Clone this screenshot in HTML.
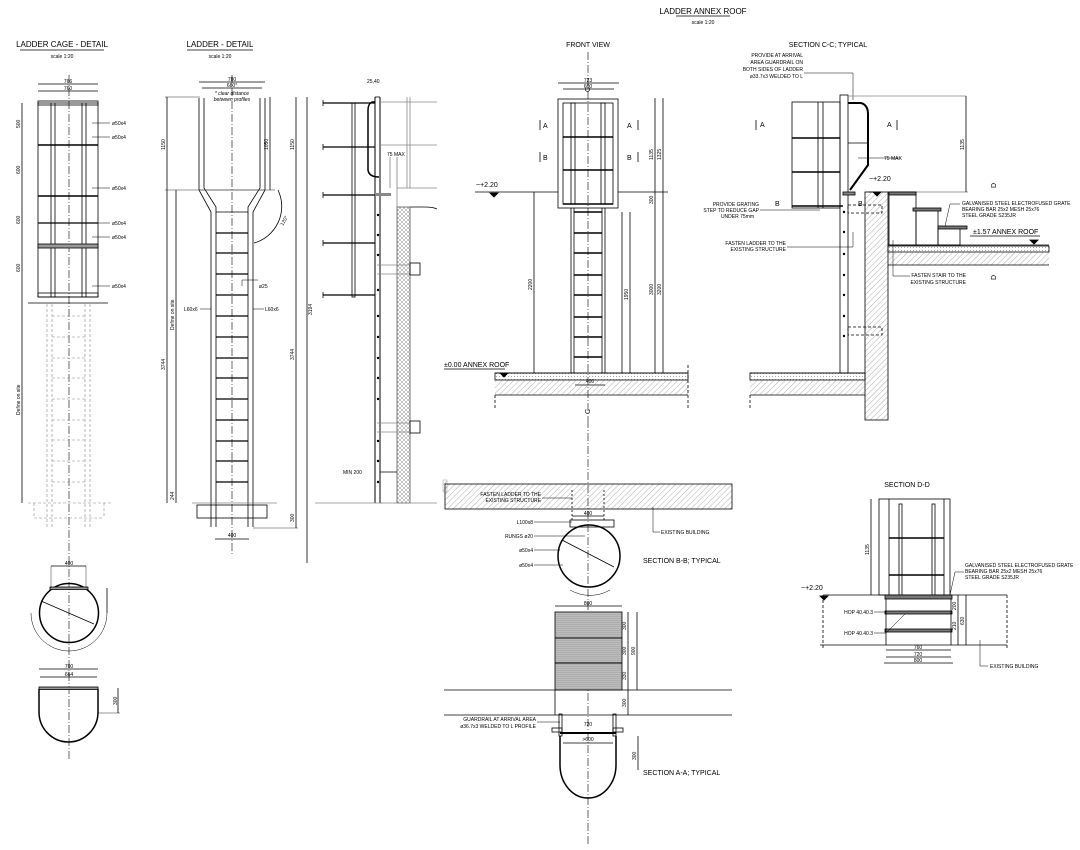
<!DOCTYPE html>
<html><head><meta charset="utf-8"><style>
html,body{margin:0;padding:0;background:#fff;}
svg{display:block;font-family:"Liberation Sans",sans-serif;}
text{fill:#000;}
.t{font-size:5px;}
.m{font-size:7px;}
.h{font-size:8px;}
</style></head><body>
<svg width="1080" height="850" viewBox="0 0 1080 850" xmlns="http://www.w3.org/2000/svg">
<defs>
<pattern id="hat" width="4" height="4" patternUnits="userSpaceOnUse" patternTransform="rotate(45)"><line x1="0" y1="0" x2="0" y2="4" stroke="#777" stroke-width="0.6"/></pattern>
<pattern id="xh" width="4" height="4" patternUnits="userSpaceOnUse"><path d="M0 0 L4 4 M4 0 L0 4" stroke="#888" stroke-width="0.5"/></pattern>
<pattern id="dot" width="3" height="3" patternUnits="userSpaceOnUse"><circle cx="1.5" cy="1.5" r="0.5" fill="#888"/></pattern>
<pattern id="mesh" width="2" height="2" patternUnits="userSpaceOnUse"><rect width="2" height="2" fill="#bbb"/><line x1="0" y1="0" x2="2" y2="0" stroke="#888" stroke-width="0.5"/></pattern>
</defs>
<g stroke="#000" fill="none" stroke-width="0.8">

<!-- titles -->
<text class="h" x="703" y="14" text-anchor="middle" stroke="none">LADDER ANNEX ROOF</text>
<line x1="676" y1="16" x2="730" y2="16"/>
<text class="t" x="703" y="24" text-anchor="middle" stroke="none">scale 1:20</text>
<text class="h" x="62" y="47" text-anchor="middle" stroke="none">LADDER CAGE - DETAIL</text>
<line x1="20" y1="50" x2="104" y2="50"/>
<text class="t" x="62" y="58" text-anchor="middle" stroke="none">scale 1:20</text>
<text class="h" x="220" y="47" text-anchor="middle" stroke="none">LADDER - DETAIL</text>
<line x1="187" y1="50" x2="253" y2="50"/>
<text class="t" x="220" y="58" text-anchor="middle" stroke="none">scale 1:20</text>
<text class="m" x="588" y="47" text-anchor="middle" stroke="none">FRONT VIEW</text>
<text class="m" x="828" y="47" text-anchor="middle" stroke="none">SECTION C-C; TYPICAL</text>

<!-- VIEW 1 cage -->
<line x1="69" y1="75" x2="69" y2="760" stroke-dasharray="8 2 1 2" stroke-width="0.6"/>
<rect x="38" y="103" width="60" height="194"/>
<rect x="38" y="101" width="60" height="4"/>
<rect x="38" y="293" width="60" height="4"/>
<line x1="51" y1="103" x2="51" y2="297"/><line x1="55" y1="103" x2="55" y2="297"/>
<line x1="82" y1="103" x2="82" y2="297"/><line x1="86" y1="103" x2="86" y2="297"/>
<line x1="38" y1="145" x2="98" y2="145" stroke-width="1.4"/>
<line x1="38" y1="196" x2="98" y2="196" stroke-width="1.4"/>
<line x1="38" y1="223" x2="98" y2="223" stroke-width="1.2"/>
<rect x="38" y="244" width="60" height="4" fill="#999"/>
<line x1="38" y1="84" x2="98" y2="84"/><line x1="38" y1="91" x2="98" y2="91"/>
<text class="t" x="68" y="83" text-anchor="middle" stroke="none">766</text>
<text class="t" x="68" y="90" text-anchor="middle" stroke="none">760</text>
<line x1="22" y1="103" x2="22" y2="503"/>
<g stroke="none" class="t">
<text x="112" y="125">ø50x4</text><text x="112" y="139">ø50x4</text><text x="112" y="190">ø50x4</text>
<text x="112" y="225">ø50x4</text><text x="112" y="239">ø50x4</text><text x="112" y="288">ø50x4</text>
<text transform="translate(20,128) rotate(-90)">500</text><text transform="translate(20,174) rotate(-90)">600</text>
<text transform="translate(20,224) rotate(-90)">600</text><text transform="translate(20,272) rotate(-90)">600</text>
<text transform="translate(20,415) rotate(-90)">Define on site</text>
</g>
<g stroke-width="0.5">
<line x1="92" y1="123" x2="110" y2="123"/><line x1="92" y1="137" x2="110" y2="137"/><line x1="92" y1="188" x2="110" y2="188"/>
<line x1="92" y1="223" x2="110" y2="223"/><line x1="92" y1="237" x2="110" y2="237"/><line x1="92" y1="286" x2="110" y2="286"/>
</g>
<line x1="28" y1="303" x2="108" y2="303"/>
<g stroke="#888" stroke-dasharray="3 2" stroke-width="0.6">
<line x1="47" y1="304" x2="47" y2="527"/><line x1="52" y1="304" x2="52" y2="527"/>
<line x1="85" y1="304" x2="85" y2="527"/><line x1="90" y1="304" x2="90" y2="527"/>
<line x1="52" y1="316" x2="85" y2="316"/><line x1="52" y1="337" x2="85" y2="337"/><line x1="52" y1="358" x2="85" y2="358"/>
<line x1="52" y1="378" x2="85" y2="378"/><line x1="52" y1="399" x2="85" y2="399"/><line x1="52" y1="420" x2="85" y2="420"/>
<line x1="52" y1="440" x2="85" y2="440"/><line x1="52" y1="461" x2="85" y2="461"/><line x1="52" y1="482" x2="85" y2="482"/>
<line x1="28" y1="503" x2="113" y2="503"/><line x1="34" y1="518" x2="104" y2="518"/><line x1="34" y1="503" x2="34" y2="518"/><line x1="104" y1="503" x2="104" y2="518"/>
</g>
<circle cx="69" cy="613" r="29.5" stroke-width="1.5"/>
<line x1="41" y1="601" x2="94" y2="624"/>
<rect x="50" y="587" width="38" height="2.5" fill="#999"/>
<line x1="51" y1="566" x2="86" y2="566"/><line x1="51" y1="566" x2="51" y2="588" stroke-width="0.4"/><line x1="86" y1="566" x2="86" y2="588" stroke-width="0.4"/>
<text class="t" x="69" y="565" text-anchor="middle" stroke="none">400</text>
<line x1="107" y1="588" x2="107" y2="613"/>
<path d="M31 613 A38 38 0 0 0 107 613" stroke-width="0.5"/>
<path d="M39 689 L39 712 A29.5 30 0 0 0 98 712 L98 689" stroke-width="1.5"/>
<rect x="39" y="687" width="59" height="2.5" fill="#999"/>
<line x1="39" y1="669" x2="98" y2="669"/><line x1="40" y1="677" x2="97" y2="677"/>
<text class="t" x="69" y="668" text-anchor="middle" stroke="none">700</text>
<text class="t" x="69" y="676" text-anchor="middle" stroke="none">664</text>
<line x1="118" y1="688" x2="118" y2="713"/>
<line x1="98" y1="713" x2="120" y2="713" stroke-width="0.4"/>
<text class="t" transform="translate(117,705) rotate(-90)" stroke="none">300</text>

<!-- VIEW 2 ladder detail -->
<line x1="232" y1="75" x2="232" y2="555" stroke-dasharray="8 2 1 2" stroke-width="0.6"/>
<line x1="199" y1="82" x2="265" y2="82"/><line x1="202" y1="88" x2="262" y2="88"/>
<text class="t" x="232" y="81" text-anchor="middle" stroke="none">780</text>
<text class="t" x="232" y="87" text-anchor="middle" stroke="none">680*</text>
<text class="t" x="232" y="95" text-anchor="middle" stroke="none" font-style="italic">* clear distance</text>
<text class="t" x="232" y="101" text-anchor="middle" stroke="none" font-style="italic">between profiles</text>
<path d="M199 98 L199 190 L211 212 L211 527 M204 98 L204 188 L216 207 L216 527"/>
<path d="M265 98 L265 190 L253 212 L253 527 M260 98 L260 188 L248 207 L248 527"/>
<line x1="199" y1="190" x2="265" y2="190" stroke="#888"/>
<line x1="216" y1="212" x2="248" y2="212"/>
<g stroke-width="1.3">
<line x1="216" y1="233" x2="248" y2="233"/><line x1="216" y1="253" x2="248" y2="253"/><line x1="216" y1="274" x2="248" y2="274"/>
<line x1="216" y1="295" x2="248" y2="295"/><line x1="216" y1="316" x2="248" y2="316"/><line x1="216" y1="337" x2="248" y2="337"/>
<line x1="216" y1="358" x2="248" y2="358"/><line x1="216" y1="378" x2="248" y2="378"/><line x1="216" y1="399" x2="248" y2="399"/>
<line x1="216" y1="420" x2="248" y2="420"/><line x1="216" y1="441" x2="248" y2="441"/><line x1="216" y1="461" x2="248" y2="461"/>
<line x1="216" y1="482" x2="248" y2="482"/>
</g>
<line x1="192" y1="503" x2="277" y2="503" stroke="#888"/>
<rect x="197" y="505" width="70" height="13"/>
<line x1="215" y1="539" x2="249" y2="539"/>
<text class="t" x="232" y="537" text-anchor="middle" stroke="none">400</text>
<line x1="167" y1="97" x2="167" y2="503"/><line x1="176" y1="190" x2="176" y2="503"/>
<line x1="165" y1="97" x2="200" y2="97" stroke-width="0.4"/>
<line x1="165" y1="190" x2="275" y2="190" stroke-width="0.4"/>
<line x1="270" y1="97" x2="270" y2="190"/><line x1="296" y1="97" x2="296" y2="528"/>
<line x1="253" y1="528" x2="298" y2="528" stroke-width="0.4"/>
<path d="M254 243 A38 38 0 0 0 278 190"/>
<g class="t" stroke="none">
<text transform="translate(165,150) rotate(-90)">1150</text>
<text transform="translate(268,150) rotate(-90)">1050</text>
<text transform="translate(294,150) rotate(-90)">1150</text>
<text transform="translate(165,370) rotate(-90)">3744</text>
<text transform="translate(174,330) rotate(-90)">Define on site</text>
<text transform="translate(294,360) rotate(-90)">3744</text>
<text transform="translate(294,522) rotate(-90)">300</text>
<text transform="translate(174,500) rotate(-90)">244</text>
<text transform="translate(283,226) rotate(-60)">120°</text>
<text x="259" y="288">ø25</text><text x="184" y="311">L60x6</text><text x="265" y="311">L60x6</text>
</g>
<path d="M242 286 L242 280 L258 280 M200 309 L211 309 M253 309 L264 309" stroke-width="0.5"/>

<!-- VIEW 3 side -->
<line x1="307" y1="97" x2="307" y2="563"/>
<text class="t" transform="translate(312,315) rotate(-90)" stroke="none">3194</text>
<line x1="375" y1="97" x2="375" y2="503" stroke-width="1"/>
<line x1="380" y1="97" x2="380" y2="503" stroke-width="1"/>
<line x1="375" y1="97" x2="380" y2="97"/>
<path d="M323 103 L375 103 M323 147 L375 147 M323 195 L375 195 M323 243 L375 243 M323 295 L375 295" stroke-width="1.3"/>
<line x1="323" y1="100" x2="323" y2="106"/><line x1="323" y1="144" x2="323" y2="150"/><line x1="323" y1="192" x2="323" y2="198"/><line x1="323" y1="240" x2="323" y2="246"/><line x1="323" y1="292" x2="323" y2="298"/>
<rect x="352" y="103" width="3" height="194"/>
<path d="M375 102 L372 102 Q368 104 368 110 L368 170 Q369 177 379 177" stroke-width="1.5"/>
<g stroke="#888">
<line x1="380" y1="102" x2="437" y2="102"/><line x1="380" y1="145" x2="437" y2="145"/>
<line x1="407" y1="97" x2="407" y2="188"/><line x1="410" y1="97" x2="410" y2="188"/>
<line x1="397" y1="188" x2="437" y2="188"/><line x1="397" y1="188" x2="397" y2="207"/>
</g>
<path d="M410 207 L425 207 Q433 207 437 209"/>
<rect x="397" y="207" width="13" height="296" fill="url(#xh)" stroke="#555"/>
<rect x="375" y="193" width="16" height="3" fill="#888" stroke="none"/>
<g fill="#000"><circle cx="378" cy="215" r="0.8"/><circle cx="378" cy="235" r="0.8"/><circle cx="378" cy="255" r="0.8"/><circle cx="378" cy="290" r="0.8"/><circle cx="378" cy="316" r="0.8"/><circle cx="378" cy="337" r="0.8"/><circle cx="378" cy="358" r="0.8"/><circle cx="378" cy="378" r="0.8"/><circle cx="378" cy="399" r="0.8"/><circle cx="378" cy="441" r="0.8"/><circle cx="378" cy="461" r="0.8"/><circle cx="378" cy="482" r="0.8"/></g>
<path d="M377 265 L410 265 M377 274 L410 274" stroke="#888"/>
<rect x="410" y="263" width="10" height="12"/>
<path d="M377 423 L410 423 M377 432 L410 432" stroke="#888"/>
<rect x="410" y="421" width="10" height="12"/>
<line x1="315" y1="503" x2="383" y2="503" stroke="#888"/>
<line x1="380" y1="503" x2="437" y2="503" stroke="#888"/>
<line x1="380" y1="472" x2="397" y2="472"/>
<line x1="390" y1="157" x2="390" y2="188" stroke-width="0.4"/><line x1="397" y1="157" x2="397" y2="188" stroke-width="0.4"/>
<text class="t" x="367" y="83" stroke="none">25,40</text>
<text class="t" x="387" y="156" stroke="none">75 MAX</text>
<text class="t" x="343" y="474" stroke="none">MIN 200</text>
<rect x="443" y="480" width="4" height="12" fill="url(#hat)" stroke="#888" stroke-width="0.4"/>

<!-- FRONT VIEW -->
<line x1="588" y1="52" x2="588" y2="420" stroke-dasharray="8 2 1 2" stroke-width="0.6"/>
<text class="m" transform="translate(590,92) rotate(-90)" stroke="none">C</text>
<text class="m" transform="translate(590,414) rotate(-90)" stroke="none">C</text>
<line x1="558" y1="83" x2="619" y2="83"/><line x1="563" y1="89" x2="614" y2="89"/>
<text class="t" x="588" y="82" text-anchor="middle" stroke="none">723</text>
<text class="t" x="588" y="88" text-anchor="middle" stroke="none">600</text>
<rect x="558" y="99" width="60" height="109"/>
<rect x="563" y="103" width="50" height="101"/>
<rect x="571" y="103" width="4" height="101"/><rect x="601" y="103" width="4" height="101"/>
<line x1="563" y1="137" x2="613" y2="137" stroke-width="1.5"/>
<line x1="563" y1="170" x2="613" y2="170" stroke-width="1.5"/>
<line x1="563" y1="204" x2="613" y2="204" stroke-width="1.5"/>
<line x1="571" y1="208" x2="571" y2="373"/><line x1="574" y1="208" x2="574" y2="373"/>
<line x1="602" y1="208" x2="602" y2="373"/><line x1="605" y1="208" x2="605" y2="373"/>
<g stroke-width="1.5">
<line x1="574" y1="212" x2="602" y2="212"/><line x1="574" y1="233" x2="602" y2="233"/><line x1="574" y1="253" x2="602" y2="253"/>
<line x1="574" y1="275" x2="602" y2="275"/><line x1="574" y1="295" x2="602" y2="295"/><line x1="574" y1="317" x2="602" y2="317"/>
<line x1="574" y1="337" x2="602" y2="337"/><line x1="574" y1="357" x2="602" y2="357"/>
</g>
<g class="m" stroke="none"><text x="543" y="128">A</text><text x="627" y="128">A</text><text x="543" y="160">B</text><text x="627" y="160">B</text></g>
<line x1="540" y1="120" x2="540" y2="130"/><line x1="638" y1="120" x2="638" y2="130"/>
<line x1="540" y1="152" x2="540" y2="162"/><line x1="638" y1="152" x2="638" y2="162"/>
<line x1="475" y1="192" x2="558" y2="192"/><line x1="618" y1="192" x2="668" y2="192"/>
<text class="m" x="476" y="187" stroke="none">~+2.20</text>
<path d="M490 193 L498 193 L494 197 Z" fill="#000"/>
<line x1="534" y1="192" x2="534" y2="373"/>
<line x1="622" y1="212" x2="622" y2="373"/><line x1="630" y1="212" x2="630" y2="373"/><line x1="655" y1="98" x2="655" y2="373"/><line x1="663" y1="98" x2="663" y2="373"/>
<line x1="575" y1="385" x2="605" y2="385"/>
<text class="t" x="590" y="383" text-anchor="middle" stroke="none">400</text>
<g class="t" stroke="none">
<text transform="translate(532,290) rotate(-90)">2200</text>
<text transform="translate(653,295) rotate(-90)">3000</text>
<text transform="translate(661,295) rotate(-90)">3200</text>
<text transform="translate(628,300) rotate(-90)">1950</text>
<text transform="translate(653,160) rotate(-90)">1135</text>
<text transform="translate(661,160) rotate(-90)">1325</text>
<text transform="translate(653,204) rotate(-90)">300</text>
</g>
<rect x="495" y="373" width="193" height="7" fill="url(#dot)"/>
<rect x="495" y="380" width="193" height="15" fill="url(#hat)" stroke="none"/>
<line x1="495" y1="373" x2="688" y2="373"/><line x1="495" y1="395" x2="688" y2="395"/>
<line x1="495" y1="395" x2="495" y2="408" stroke-dasharray="3 2"/><line x1="688" y1="365" x2="688" y2="408" stroke-dasharray="3 2"/>
<text class="m" x="444" y="367" stroke="none">±0.00 ANNEX ROOF</text>
<line x1="444" y1="369" x2="505" y2="369"/>
<path d="M500 373 L508 373 L504 377 Z" fill="#000"/>

<!-- SECTION C-C -->
<g class="t" stroke="none" text-anchor="end">
<text x="803" y="57">PROVIDE AT ARRIVAL</text><text x="803" y="64">AREA GUARDRAIL ON</text>
<text x="803" y="71">BOTH SIDES OF LADDER</text><text x="803" y="78">ø33.7x3 WELDED TO L</text>
<text x="759" y="206">PROVIDE GRATING</text><text x="759" y="212">STEP TO REDUCE GAP</text><text x="754" y="218">UNDER 75mm</text>
<text x="786" y="245">FASTEN LADDER TO THE</text><text x="786" y="251">EXISTING STRUCTURE</text>
<text x="966" y="277">FASTEN STAIR TO THE</text><text x="966" y="284">EXISTING STRUCTURE</text>
</g>
<path d="M804 73 L853 73 L853 100" stroke-width="0.5"/>
<path d="M760 210 L820 210" stroke-width="0.5"/>
<path d="M787 247 L853 247 L853 232" stroke-width="0.5"/>
<path d="M893 240 L893 276 L910 276" stroke-width="0.5"/>
<rect x="840" y="95" width="8" height="278"/>
<line x1="848" y1="96" x2="966" y2="96" stroke="#888"/>
<rect x="792" y="102" width="48" height="106"/>
<line x1="818" y1="102" x2="818" y2="208"/><line x1="823" y1="102" x2="823" y2="208"/>
<line x1="792" y1="138" x2="840" y2="138" stroke-width="1.6"/><line x1="792" y1="172" x2="840" y2="172" stroke-width="1.6"/><line x1="792" y1="206" x2="843" y2="206" stroke-width="1.6"/>
<path d="M848 103 L861 103 Q868 105 868 114 L868 165 L850 190" stroke-width="2"/>
<line x1="848" y1="143" x2="868" y2="143"/>
<rect x="843" y="192" width="12" height="3" fill="#888"/>
<text class="t" x="884" y="160" stroke="none">75 MAX</text>
<line x1="858" y1="158" x2="900" y2="158" stroke-width="0.5"/>
<line x1="966" y1="96" x2="966" y2="192"/>
<line x1="888" y1="192" x2="968" y2="192" stroke-width="0.4"/>
<text class="t" transform="translate(964,150) rotate(-90)" stroke="none">1135</text>
<g class="m" stroke="none"><text x="760" y="127">A</text><text x="887" y="127">A</text><text x="858" y="206">B</text><text x="775" y="206">B</text></g>
<line x1="756" y1="120" x2="756" y2="130"/><line x1="897" y1="120" x2="897" y2="130"/>
<rect x="865" y="192" width="23" height="228" fill="url(#hat)" stroke="#000"/>
<rect x="750" y="373" width="115" height="7" fill="url(#dot)"/>
<rect x="750" y="380" width="115" height="15" fill="url(#hat)" stroke="none"/>
<line x1="750" y1="373" x2="865" y2="373"/><line x1="750" y1="395" x2="865" y2="395"/>
<line x1="750" y1="395" x2="750" y2="410" stroke-dasharray="3 2"/>
<rect x="888" y="246" width="161" height="6" fill="url(#dot)"/>
<rect x="888" y="252" width="161" height="13" fill="url(#hat)" stroke="none"/>
<line x1="888" y1="245" x2="1049" y2="245"/><line x1="888" y1="265" x2="1049" y2="265"/>
<rect x="889" y="192" width="27" height="53"/>
<rect x="889" y="192" width="27" height="3" fill="#777"/>
<rect x="916" y="210" width="22" height="35"/>
<rect x="913" y="208" width="28" height="3" fill="#777"/>
<rect x="938" y="228" width="22" height="17"/>
<rect x="938" y="226" width="29" height="3" fill="#777"/>
<rect x="848" y="205" width="34" height="8" stroke-dasharray="3 2"/>
<rect x="848" y="327" width="34" height="8" stroke-dasharray="3 2"/>
<g fill="#000"><circle cx="844" cy="212" r="0.8"/><circle cx="844" cy="232" r="0.8"/><circle cx="844" cy="254" r="0.8"/><circle cx="844" cy="275" r="0.8"/><circle cx="844" cy="295" r="0.8"/><circle cx="844" cy="316" r="0.8"/><circle cx="844" cy="336" r="0.8"/></g>
<line x1="868" y1="192" x2="880" y2="192"/>
<text class="m" x="869" y="181" stroke="none">~+2.20</text>
<path d="M873 192 L881 192 L877 196 Z" fill="#000"/>
<text class="m" x="973" y="234" stroke="none">±1.57 ANNEX ROOF</text>
<line x1="970" y1="236" x2="1040" y2="236"/>
<path d="M1030 240 L1038 240 L1034 244 Z" fill="#000"/>
<g class="t" stroke="none"><text x="962" y="205">GALVANISED STEEL ELECTROFUSED GRATE</text><text x="962" y="211">BEARING BAR 25x2 MESH 25x76</text><text x="962" y="217">STEEL GRADE S235JR</text></g>
<path d="M960 204 L950 204 L945 226" stroke-width="0.5"/>
<text class="m" transform="translate(996,188) rotate(-90)" stroke="none">D</text>
<text class="m" transform="translate(996,280) rotate(-90)" stroke="none">D</text>

<!-- SECTION B-B -->
<line x1="588" y1="420" x2="588" y2="845" stroke-dasharray="8 2 1 2" stroke-width="0.6"/>
<rect x="445" y="484" width="287" height="25" fill="url(#hat)" stroke="#000"/>
<g class="t" stroke="none" text-anchor="end">
<text x="541" y="496">FASTEN LADDER TO THE</text><text x="541" y="502">EXISTING STRUCTURE</text>
<text x="533" y="524">L100x8</text><text x="533" y="538">RUNGS ø20</text><text x="533" y="552">ø50x4</text><text x="533" y="567">ø50x4</text>
</g>
<path d="M542 498 L572 498 M534 522 L572 522 M534 536 L585 536 M534 550 L560 550 M534 565 L563 565" stroke-width="0.5"/>
<line x1="572" y1="490" x2="572" y2="522" stroke-dasharray="2 2"/><line x1="604" y1="490" x2="604" y2="522" stroke-dasharray="2 2"/>
<line x1="572" y1="516" x2="604" y2="516"/>
<text class="t" x="588" y="515" text-anchor="middle" stroke="none">400</text>
<rect x="570" y="520" width="44" height="7"/>
<circle cx="589" cy="556" r="31" stroke-width="1.5"/>
<line x1="562" y1="540" x2="614" y2="567"/>
<path d="M653 507 L653 532 L660 532" stroke-width="0.5"/>
<text class="t" x="661" y="534" stroke="none">EXISTING BUILDING</text>
<text class="m" x="643" y="563" stroke="none">SECTION B-B; TYPICAL</text>
<path d="M570 590 A40 40 0 0 0 610 590" stroke-width="0.5"/>

<!-- SECTION A-A -->
<rect x="555" y="612" width="67" height="78" fill="url(#mesh)" stroke="#000"/>
<line x1="555" y1="638" x2="622" y2="638" stroke-width="1"/><line x1="555" y1="663" x2="622" y2="663" stroke-width="1"/>
<line x1="555" y1="606" x2="622" y2="606"/>
<text class="t" x="588" y="605" text-anchor="middle" stroke="none">800</text>
<line x1="628" y1="612" x2="628" y2="715"/><line x1="637" y1="612" x2="637" y2="690"/>
<g class="t" stroke="none"><text transform="translate(626,630) rotate(-90)">300</text><text transform="translate(626,655) rotate(-90)">300</text><text transform="translate(626,680) rotate(-90)">330</text><text transform="translate(626,707) rotate(-90)">300</text><text transform="translate(635,655) rotate(-90)">900</text></g>
<line x1="444" y1="690" x2="732" y2="690"/><line x1="444" y1="715" x2="732" y2="715"/>
<line x1="555" y1="690" x2="555" y2="715"/>
<g class="t" stroke="none" text-anchor="end"><text x="536" y="721">GUARDRAIL AT ARRIVAL AREA</text><text x="536" y="728">ø36.7x3 WELDED TO L PROFILE</text></g>
<path d="M537 722 L560 722" stroke-width="0.5"/>
<rect x="559" y="714" width="3" height="22"/><rect x="613" y="714" width="3" height="22"/>
<rect x="552" y="728" width="10" height="4"/><rect x="613" y="728" width="10" height="4"/>
<line x1="560" y1="733" x2="616" y2="733" stroke-width="2"/>
<path d="M560 736 L560 765 A28 33 0 0 0 616 765 L616 736" stroke-width="1.5"/>
<line x1="563" y1="743" x2="613" y2="743"/>
<text class="t" x="588" y="726" text-anchor="middle" stroke="none">720</text>
<text class="t" x="588" y="741" text-anchor="middle" stroke="none">&gt;600</text>
<line x1="638" y1="736" x2="638" y2="770"/>
<text class="t" transform="translate(636,760) rotate(-90)" stroke="none">300</text>
<text class="m" x="643" y="775" stroke="none">SECTION A-A; TYPICAL</text>

<!-- SECTION D-D -->
<text class="m" x="907" y="487" text-anchor="middle" stroke="none">SECTION D-D</text>
<rect x="879" y="499" width="71" height="96"/>
<line x1="889" y1="499" x2="889" y2="595"/><line x1="944" y1="499" x2="944" y2="595"/>
<rect x="899" y="504" width="3" height="91"/><rect x="932" y="504" width="3" height="91"/>
<line x1="889" y1="538" x2="944" y2="538" stroke-width="1.5"/><line x1="889" y1="575" x2="944" y2="575" stroke-width="1.5"/>
<line x1="871" y1="499" x2="871" y2="595"/>
<text class="t" transform="translate(869,555) rotate(-90)" stroke="none">1135</text>
<line x1="823" y1="595" x2="1007" y2="595"/>
<text class="m" x="801" y="590" stroke="none">~+2.20</text>
<path d="M820 596 L828 596 L824 600 Z" fill="#000"/>
<line x1="823" y1="595" x2="823" y2="650" stroke-dasharray="3 2"/>
<line x1="1007" y1="595" x2="1007" y2="650" stroke-dasharray="3 2"/>
<rect x="885" y="595" width="67" height="4" fill="#777"/>
<rect x="885" y="611" width="67" height="3" fill="#777"/>
<rect x="885" y="629" width="67" height="3" fill="#777"/>
<line x1="886" y1="599" x2="886" y2="645"/><line x1="951" y1="599" x2="951" y2="645"/>
<line x1="820" y1="645" x2="1007" y2="645"/>
<line x1="886" y1="650" x2="951" y2="650"/><line x1="886" y1="657" x2="951" y2="657"/><line x1="884" y1="663" x2="953" y2="663"/>
<g class="t" stroke="none" text-anchor="middle"><text x="918" y="649">760</text><text x="918" y="656">720</text><text x="918" y="662">800</text></g>
<g class="t" stroke="none" text-anchor="end"><text x="873" y="614">HOP 40.40.3</text><text x="873" y="635">HOP 40.40.3</text></g>
<path d="M874 612 L886 612 M874 633 L886 633 L905 614" stroke-width="0.5"/>
<line x1="958" y1="595" x2="958" y2="645"/><line x1="966" y1="595" x2="966" y2="645"/>
<g class="t" stroke="none"><text transform="translate(956,610) rotate(-90)">200</text><text transform="translate(956,630) rotate(-90)">210</text><text transform="translate(964,625) rotate(-90)">630</text></g>
<g class="t" stroke="none"><text x="965" y="567">GALVANISED STEEL ELECTROFUSED GRATE</text><text x="965" y="573">BEARING BAR 25x2 MESH 25x76</text><text x="965" y="579">STEEL GRADE S235JR</text></g>
<path d="M964 572 L955 572 L950 595" stroke-width="0.5"/>
<path d="M980 640 L980 666 L988 666" stroke-width="0.5"/>
<text class="t" x="990" y="668" stroke="none">EXISTING BUILDING</text>
</g>
</svg>
</body></html>
